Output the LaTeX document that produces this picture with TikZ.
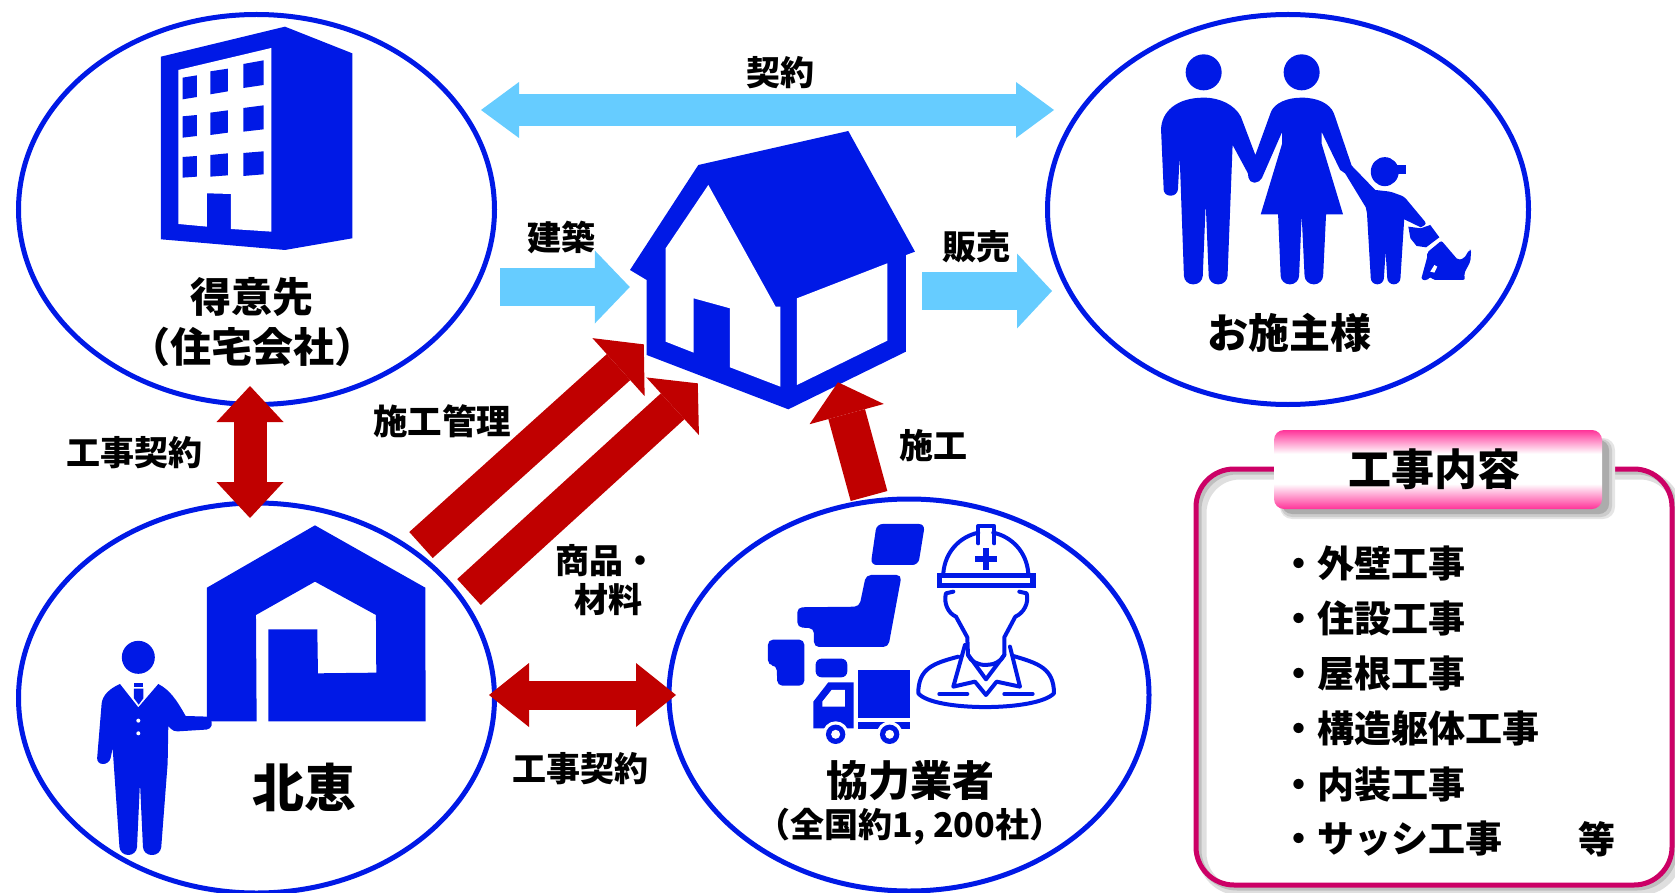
\documentclass[tikz,border=0pt]{standalone}
\usepackage{fontspec}
\setmainfont{Noto Sans CJK JP}
\usetikzlibrary{calc,arrows.meta,shapes.geometric}
\definecolor{hblue}{HTML}{0019E6}
\definecolor{hsky}{HTML}{66CCFF}
\definecolor{hred}{HTML}{C00000}
\definecolor{hframe}{HTML}{CC0066}
\definecolor{hpink}{HTML}{FF3399}
\pgfdeclareverticalshading{titleshade}{100bp}{color(0bp)=(hpink); color(25bp)=(hpink); color(41bp)=(white); color(60bp)=(white); color(75bp)=(hpink); color(100bp)=(hpink)}
\tikzset{
	circ/.style={draw=hblue, line width=5pt, ellipse, inner sep=0pt, outer sep=0pt},
	skyarrow/.style={draw=hsky, line width=#1},
	redarrow/.style={draw=hred, line width=#1},
	head/.tip={Triangle[sep=-2pt,line width=0pt]},
	lbl/.style={font=\bfseries\fontsize{#1}{#1}\selectfont, inner sep=0pt},
	zoomed/.style={x=0.3333pt, y=-0.3333pt},
	zoomedw/.style={x=0.41346pt, y=-0.3333pt},
	outline/.style={draw=hblue, line width=4pt, line cap=round, line join=round}
}
\begin{document}
\begin{tikzpicture}[x=1pt,y=-1pt]
	\useasboundingbox (0,0) rectangle (1675,893);

	%the four circles
	\node[circ, minimum width=476pt, minimum height=390pt] (Tokui) at (256.5,209.5) {};
	\node[circ, minimum width=481pt, minimum height=390pt] (Sekou) at (1288,209.5) {};
	\node[circ, minimum width=476pt, minimum height=390pt] (Hokkei) at (256.5,698) {};
	\node[circ, minimum width=480pt, minimum height=392pt] (Kyoryoku) at (909,695) {};
	\node[inner sep=0pt, minimum width=285pt, minimum height=278pt] (House) at (772.5,270) {};

	%building
	\begin{scope}[zoomed]
		\fill[hblue] (483,170) -- (855,80) -- (1057,160) -- (1057,715) -- (855,750) -- (483,718) -- cycle;
		\fill[white] (535,210) -- (814,144) -- (814,695) -- (693,687) -- (693,582) -- (621,580) -- (621,680) -- (535,672) -- cycle;
		\fill[hblue] (548,233) -- (591,226) -- (591,291) -- (548,298) -- cycle;
		\fill[hblue] (631,214) -- (684,206) -- (684,274) -- (631,283) -- cycle;
		\fill[hblue] (730,192) -- (791,181) -- (791,255) -- (730,264) -- cycle;
		\fill[hblue] (548,349) -- (591,345) -- (591,408) -- (548,413) -- cycle;
		\fill[hblue] (631,338) -- (684,331) -- (684,398) -- (631,405) -- cycle;
		\fill[hblue] (730,324) -- (791,316) -- (791,388) -- (730,395) -- cycle;
		\fill[hblue] (548,471) -- (591,468) -- (591,530) -- (548,533) -- cycle;
		\fill[hblue] (631,465) -- (684,460) -- (684,526) -- (631,530) -- cycle;
		\fill[hblue] (730,459) -- (791,454) -- (791,523) -- (730,528) -- cycle;
	\end{scope}

	%family and dog
	\begin{scope}[shift={(1030,0)},zoomedw]
		\fill[hblue] (420,217) ellipse [x radius=18pt, y radius=18pt];
		\fill[hblue] (657,217) ellipse [x radius=18pt, y radius=18pt];
		\fill[hblue] (858,515) ellipse [x radius=14pt, y radius=14.5pt];
		\fill[hblue] (875,495) rectangle (910,522);
		\fill[hblue] (420,293) .. controls (355,293) and (317,335) .. (317,390) -- (323,560)
			[rounded corners=6.5pt] -- (323,587) -- (357,587) -- (362,470)
			[rounded corners=8.5pt] -- (373,853) -- (417,853) [sharp corners] -- (425,610)
			[rounded corners=8.5pt] -- (433,853) -- (477,853) [sharp corners] -- (490,435) -- (527,520)
			[rounded corners=5pt] -- (530,548) -- (556,548) [sharp corners] -- (610,395) -- (610,430) -- (558,643) -- (600,643)
			[rounded corners=8.5pt] -- (607,853) -- (650,853) [sharp corners] -- (657,645)
			[rounded corners=8.5pt] -- (665,853) -- (708,853) [sharp corners] -- (716,643) -- (757,643) -- (705,430) -- (705,395) -- (750,510) -- (762,520) -- (812,622) -- (815,640)
			[rounded corners=6pt] -- (825,853) -- (855,853) [sharp corners] -- (860,755)
			[rounded corners=6pt] -- (865,853) -- (895,853) [sharp corners] -- (905,658) -- (945,682)
			[rounded corners=3pt] -- (960,672) -- (905,590) -- (872,575) [sharp corners] -- (835,570) -- (778,497) -- (735,340)
			.. controls (725,310) and (695,293) .. (657,293) .. controls (620,293) and (592,310) .. (583,335) -- (545,465) -- (510,350) .. controls (495,315) and (460,293) .. cycle;
		\fill[hblue] (915,680) -- (945,685) -- (968,675) -- (990,712) -- (958,742) -- (935,738) -- (920,715) -- cycle;
		\fill[hblue, rounded corners=2pt] (995,722) -- (1035,780) -- (1050,775) -- (1062,750) -- (1067,750) -- (1065,785) -- (1050,820) -- (1052,840) -- (975,840) -- (968,830) -- (960,842) -- (946,838) -- (962,765) -- (960,758) -- cycle;
		\fill[white] (978,795) -- (985,800) -- (978,818) -- (968,815) -- cycle;
	\end{scope}

	%house in the middle
	\begin{scope}[shift={(600,110)},zoomed]
		\fill[hblue] (90,480) -- (295,165) -- (745,63) -- (945,425) -- (918,435) -- (918,725) -- (565,898) -- (140,735) -- (140,510) -- cycle;
		\fill[white] (325,225) -- (527,590) -- (541,590) -- (541,830) -- (390,772) -- (390,595) -- (281,565) -- (281,728) -- (197,695) -- (197,415) -- cycle;
		\fill[white] (591,565) -- (862,460) -- (862,692) -- (591,825) -- cycle;
	\end{scope}

	%man and house logo
	\begin{scope}[shift={(0,500)},zoomed]
		\fill[hblue] (621,650) -- (621,263) -- (945,76) -- (1276,263) -- (1277,664) -- (805,664) -- (805,388) -- (952,388) -- (954,520) -- (1129,518) -- (1128,345) -- (945,245) -- (768,345) -- (770,664) -- (630,664) -- cycle;
		\fill[hblue] (415,472) circle (16.5pt);
		\fill[hblue] (360,552) -- (415,622) -- (475,552) .. controls (510,570) and (530,600) .. (557,648) -- (625,650)
			[rounded corners=4pt] -- (638,665) -- (632,688) -- (520,695) [sharp corners] -- (505,678) -- (503,790)
			[rounded corners=8pt] -- (482,1065) -- (430,1065) [sharp corners] -- (420,848)
			[rounded corners=8pt] -- (410,1065) -- (360,1065) [sharp corners] -- (338,745)
			[rounded corners=6pt] -- (328,792) -- (290,792) [sharp corners] -- (305,610) .. controls (308,585) and (330,565) .. cycle;
		\fill[hblue] (402,548) rectangle (430,560);
		\fill[hblue] (402,566) -- (430,566) -- (430,595) -- (416,614) -- (402,595) -- cycle;
		\fill[white] (415,662) circle (2pt);
		\fill[white] (415,700) circle (2pt);
	\end{scope}

	%japan, truck and worker
	\begin{scope}[shift={(660,490)},zoomed]
		\fill[hblue, rounded corners=6pt] (650,102) -- (795,102) -- (775,225) -- (632,225) -- cycle;
		\fill[hblue, rounded corners=5pt] (618,255) -- (725,255) -- (685,471) -- (462,471) -- (462,415) -- (412,412) -- (412,352) -- (598,350) -- cycle;
		\fill[hblue, rounded corners=5pt] (324,449) -- (433,449) -- (433,587) -- (352,587) -- (350,526) -- (324,526) -- cycle;
		\fill[hblue, rounded corners=6pt] (467,506) rectangle (562,562);
		%truck
		\fill[hblue] (595,540) rectangle (750,684);
		\fill[hblue] (595,697) rectangle (750,717);
		\fill[hblue] (460,715) -- (460,635) -- (505,577) -- (581,577) -- (581,715) -- cycle;
		\fill[white] (487,635) -- (515,600) -- (555,600) -- (555,650) -- (487,650) -- cycle;
		\fill[white] (527,733) circle (13pt);
		\fill[white] (689,733) circle (13pt);
		\fill[hblue] (527,733) circle (9.7pt);
		\fill[hblue] (689,733) circle (9.7pt);
		\fill[white] (527,733) circle (4.5pt);
		\fill[white] (689,733) circle (4.5pt);
		%worker
		\draw[outline] (850,250) .. controls (855,185) and (900,140) .. (955,128);
		\draw[outline] (1000,128) .. controls (1055,140) and (1100,185) .. (1105,250);
		\draw[outline] (955,160) -- (955,108) -- (1003,108) -- (1003,160);
		\fill[hblue] (969,175) rectangle (987,240);
		\fill[hblue] (945,198) rectangle (1011,216);
		\fill[hblue] (830,248) rectangle (1127,295);
		\fill[white] (846,265) rectangle (1110,278);
		\draw[outline] (880,305) -- (858,310) .. controls (850,340) and (865,370) .. (888,380) -- (922,442) -- (924,495) .. controls (940,535) and (1015,535) .. (1033,495) -- (1033,442) -- (1066,380) .. controls (1090,370) and (1108,340) .. (1100,310) -- (1078,305);
		\draw[outline] (915,465) -- (880,590) -- (945,575) -- (978,615) -- (1010,575) -- (1080,590) -- (1050,470);
		\draw[outline] (925,495) -- (978,568) -- (1033,495);
		\draw[outline] (895,500) .. controls (820,520) and (775,535) .. (775,610) .. controls (820,665) and (1130,665) .. (1182,610) .. controls (1182,535) and (1135,520) .. (1060,498);
		\draw[outline] (838,612) -- (922,612);
		\draw[outline] (1033,612) -- (1118,612);
	\end{scope}

	%arrows
	\draw[skyarrow=32pt, {head[length=38pt,width=56pt]}-{head[length=38pt,width=56pt]}] ($(Tokui.east)+(-11.5,-99.5)$) to ($(Sekou.west)+(4.5,-99.5)$);
	\draw[skyarrow=37pt, -{head[length=35pt,width=73pt]}] ($(Tokui.east)+(5.5,77.5)$) to ($(House.west)+(-2,17)$);
	\draw[skyarrow=37pt, -{head[length=35pt,width=75pt]}] ($(House.east)+(7,21)$) to ($(Sekou.west)+(2.5,81.5)$);
	\draw[redarrow=33pt, {head[length=36pt,width=67pt]}-{head[length=36pt,width=67pt]}] ($(Tokui.south)+(-6.5,-16.5)$) to ($(Hokkei.north)+(-6.5,13)$);
	\draw[redarrow=29pt, {head[length=40pt,width=64pt]}-{head[length=40pt,width=64pt]}] ($(Hokkei.east)+(-3.5,-3)$) to ($(Kyoryoku.west)+(5,0)$);
	\draw[redarrow=35pt, -{head[length=34pt,width=78pt]}] ($(Hokkei.north east)+(-3.8,-15.1)$) to ($(House.south west)+(12.5,-63.5)$);
	\draw[redarrow=35pt, -{head[length=34pt,width=78pt]}] ($(Hokkei.north east)+(44.2,31.9)$) to ($(House.south west)+(66.5,-24.5)$);
	\draw[redarrow=38pt, -{head[length=33pt,width=77pt]}] ($(Kyoryoku.north)+(-40,-3)$) to ($(House.south)+(66,-25)$);

	%the box at the lower right
	\draw[gray!25, line width=9pt, rounded corners=38pt] (1202,475) rectangle (1678,891);
	\draw[gray!50, line width=5pt, rounded corners=38pt] (1199,472) rectangle (1675,888);
	\node[draw=hframe, line width=5pt, rounded corners=38pt, inner sep=0pt, outer sep=0pt, minimum width=476pt, minimum height=416pt] (Naiyou) at (1434,677) {};
	\fill[gray!20, rounded corners=12pt] (1280,438) rectangle (1615,519);
	\fill[gray!40, rounded corners=11pt] (1281,439) rectangle (1612,517);
	\fill[gray!65, rounded corners=10pt] (1282,440) rectangle (1609,514);
	\node[shading=titleshade, shading angle=0, rounded corners=10pt, inner sep=0pt, minimum width=328pt, minimum height=79pt] (Title) at (1438,469.5) {};
	\node[lbl=43] (TitleText) at (1434,469.5) {工事内容};

	%labels
	\node[lbl=34] (Keiyaku) at (780,73) {契約};
	\node[lbl=34] (Kenchiku) at (561,237) {建築};
	\node[lbl=34] (Hanbai) at (976,247) {販売};
	\node[lbl=34.5] (Kanri) at (442,421) {施工管理};
	\node[lbl=34] (Koji1) at (134,453) {工事契約};
	\node[lbl=34] (Koji2) at (580,769) {工事契約};
	\node[lbl=34] (Seko) at (933,446) {施工};
	\node[lbl=34] (Shohin) at (606,561) {商品・};
	\node[lbl=34] (Zairyo) at (608,600) {材料};
	\node[lbl=41] (TokuiA) at (252,297) {得意先};
	\node[lbl=41] (TokuiB) at (252,347) {（住宅会社）};
	\node[lbl=41] (SekouA) at (1289,333) {お施主様};
	\node[lbl=52] (HokkeiA) at (304,787) {北恵};
	\node[lbl=42] (KyoryokuA) at (910,781) {協力業者};
	\node[lbl=34] (KyoryokuB) at (910,827) {（全国約1, 200社）};

	\node[lbl=37, anchor=west] (W1) at (1280,563) {・外壁工事};
	\node[lbl=37, anchor=west] (W2) at (1280,618) {・住設工事};
	\node[lbl=37, anchor=west] (W3) at (1280,673) {・屋根工事};
	\node[lbl=37, anchor=west] (W4) at (1280,728) {・構造躯体工事};
	\node[lbl=37, anchor=west] (W5) at (1280,784) {・内装工事};
	\node[lbl=37, anchor=west] (W6) at (1280,839) {・サッシ工事};
	\node[lbl=37] (W7) at (1597,839) {等};

\end{tikzpicture}
\end{document}
